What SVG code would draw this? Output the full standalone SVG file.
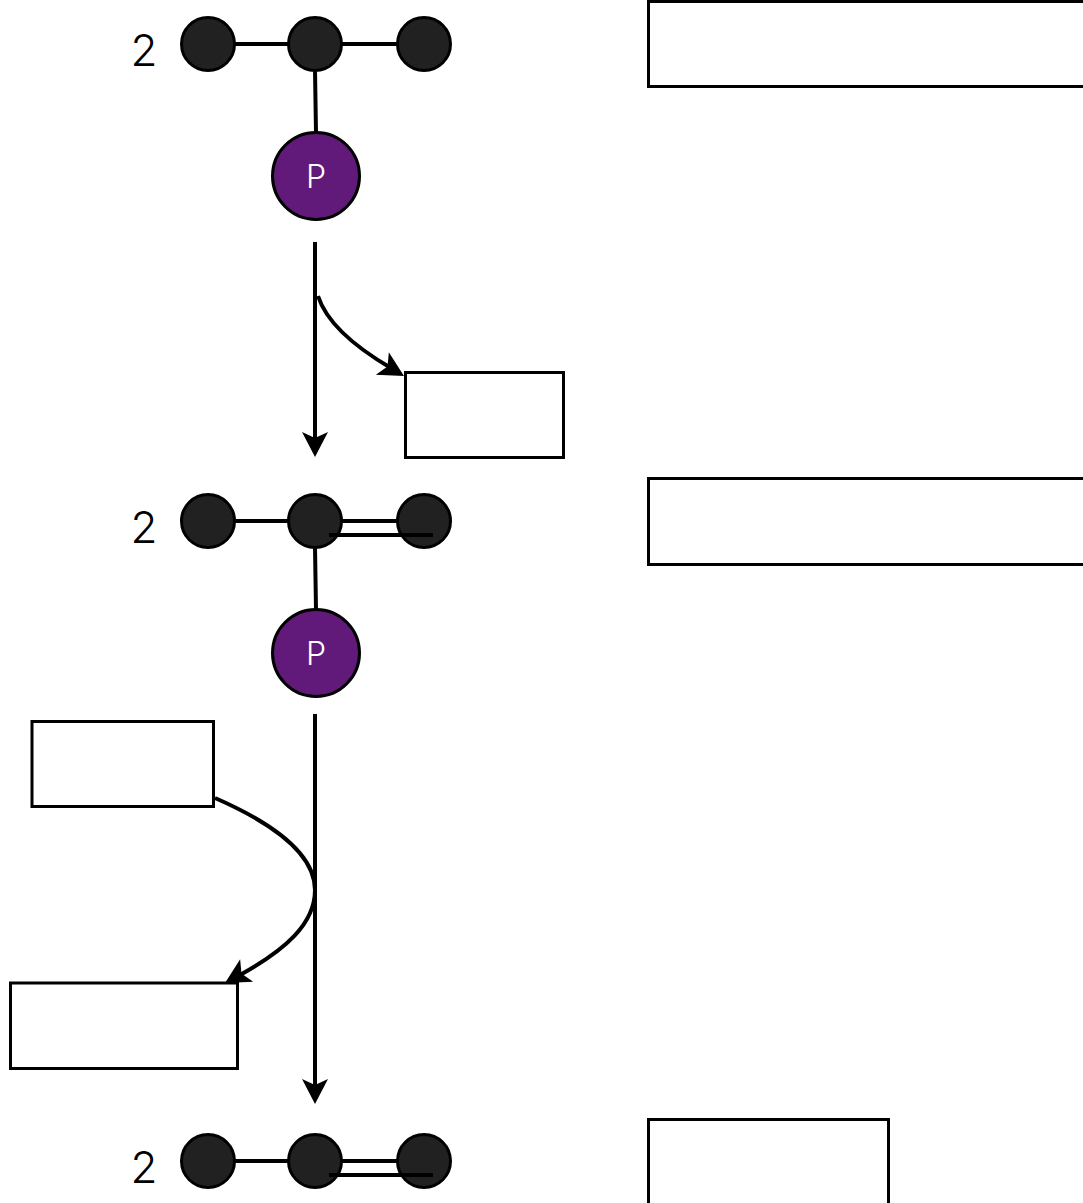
<svg xmlns="http://www.w3.org/2000/svg" width="1083" height="1203" viewBox="0 0 1083 1203">
<style>
.a{fill:#212121;stroke:#000;stroke-width:3}
.p{fill:#611a7a;stroke:#000;stroke-width:3}
.b{fill:#fff;stroke:#000;stroke-width:3}
.l{fill:none;stroke:#000;stroke-width:4}
.t{font-family:"Inter","Open Sans",sans-serif;font-weight:300;fill:#000;font-size:44px;text-anchor:middle}
.w{font-family:"Inter","Open Sans",sans-serif;font-weight:300;fill:#fff;font-size:32px;text-anchor:middle}
</style>
<defs>
<path id="h" d="M0 0L-13-25L0-19L13-25Z" fill="#000"/>
</defs>
<g id="connectors">
<path class="l" d="M235 44H288M342 44H398M315 70L316 133"/>
<path class="l" d="M235 521H288M342 521H398M315 547L316 610"/>
<path class="l" d="M235 1161H288M342 1161H398"/>
<path class="l" d="M315 242V440"/>
<use href="#h" transform="translate(315 457)"/>
<path class="l" d="M318 296C327 324 355 347 391 368"/>
<use href="#h" transform="translate(404 376) rotate(-60)"/>
<path class="l" d="M315 714V1088"/>
<use href="#h" transform="translate(315 1104)"/>
<path class="l" d="M215 798C270 822 315 853 315 890C315 924 285 950 240 975"/>
<use href="#h" transform="translate(225 983) rotate(60)"/>
</g>
<g id="n1"><circle class="a" cx="208" cy="44" r="26.500"/><circle class="a" cx="315" cy="44" r="26.500"/><circle class="a" cx="424" cy="44" r="26.500"/><text class="t" x="144" y="66">2</text></g>
<g id="p1"><circle class="p" cx="316" cy="176" r="43.500"/><text class="w" x="316" y="188">P</text></g>
<g id="n2"><circle class="a" cx="208" cy="521" r="26.500"/><circle class="a" cx="315" cy="521" r="26.500"/><circle class="a" cx="424" cy="521" r="26.500"/><text class="t" x="144" y="543">2</text><path class="l" d="M329 535H433"/></g>
<g id="p2"><circle class="p" cx="316" cy="653" r="43.500"/><text class="w" x="316" y="665">P</text></g>
<g id="n3"><circle class="a" cx="208" cy="1161" r="26.500"/><circle class="a" cx="315" cy="1161" r="26.500"/><circle class="a" cx="424" cy="1161" r="26.500"/><text class="t" x="144" y="1183">2</text><path class="l" d="M329 1175H433"/></g>
<g id="r1"><rect class="b" x="648.500" y="1.500" width="440" height="85"/></g>
<g id="r2"><rect class="b" x="648.500" y="478.500" width="440" height="86"/></g>
<g id="r3"><rect class="b" x="648.500" y="1119.500" width="240" height="90"/></g>
<g id="r4"><rect class="b" x="405.500" y="372.500" width="158" height="85"/></g>
<g id="r5"><rect class="b" x="32" y="721.500" width="181.500" height="85"/></g>
<g id="r6"><rect class="b" x="10.500" y="983" width="227" height="85.500"/></g>
</svg>
